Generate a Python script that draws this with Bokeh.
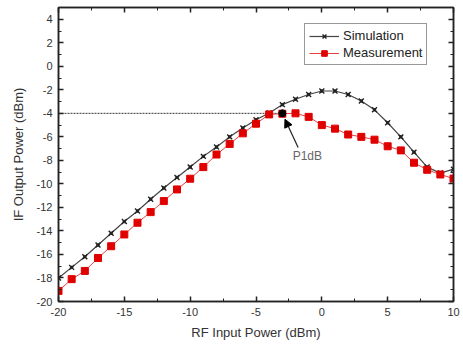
from bokeh.plotting import figure
from bokeh.models import (LinearAxis, Range1d, Legend, LegendItem, Arrow, NormalHead,
                          Label, FixedTicker)
from bokeh.embed import file_html
from bokeh.resources import INLINE

rf_in = [-20, -19, -18, -17, -16, -15, -14, -13, -12, -11, -10, -9, -8, -7, -6, -5,
         -4, -3, -2, -1, 0, 1, 2, 3, 4, 5, 6, 7, 8, 9, 10]
simulation = [-18.0, -17.1, -16.2, -15.2, -14.2, -13.2, -12.3, -11.3, -10.35, -9.45,
              -8.57, -7.66, -6.87, -6.0, -5.25, -4.54, -3.97, -3.26, -2.8, -2.4,
              -2.1, -2.1, -2.4, -2.95, -3.7, -4.8, -6.0, -7.3, -8.57, -9.08, -8.75]
measurement = [-19.1, -18.1, -17.4, -16.3, -15.3, -14.3, -13.3, -12.4, -11.46, -10.47,
               -9.56, -8.57, -7.5, -6.6, -5.7, -4.88, -4.09, -4.03, -4.0, -4.3,
               -5.0, -5.3, -5.8, -6.0, -6.24, -6.8, -7.15, -8.2, -8.8, -9.2, -9.55]
p1db_x = [-3.0]
p1db_y = [-4.0]
ref_x = [-20, -3]
ref_y = [-4, -4]
x_ticks = [-20, -15, -10, -5, 0, 5, 10]
y_ticks = [-20, -18, -16, -14, -12, -10, -8, -6, -4, -2, 0, 2, 4]
x_minor = [-17.5, -12.5, -7.5, -2.5, 2.5, 7.5]
y_minor = [-19, -17, -15, -13, -11, -9, -7, -5, -3, -1, 1, 3, 5]

FONT = "Liberation Sans"

p = figure(width=463, height=345, output_backend="svg", toolbar_location=None,
           x_range=Range1d(-20, 10), y_range=Range1d(-20, 5),
           min_border_left=58, min_border_right=10, min_border_top=7,
           min_border_bottom=44, x_axis_location=None, y_axis_location=None)
p.grid.visible = False
p.outline_line_color = "#222222"
p.outline_line_width = 1.5
p.background_fill_color = "white"
p.border_fill_color = "white"

def style_axis(ax, labels=True, xt=True):
    ticks = x_ticks if xt else y_ticks
    ax.ticker = FixedTicker(ticks=ticks, minor_ticks=x_minor if xt else y_minor)
    ax.major_tick_in = 5
    ax.major_tick_out = 0
    ax.minor_tick_in = 3
    ax.minor_tick_out = 0
    ax.axis_line_color = "#222222"
    ax.axis_line_width = 1.5
    ax.major_tick_line_color = "#222222"
    ax.major_tick_line_width = 1.5
    ax.minor_tick_line_color = "#222222"
    ax.major_label_text_font = FONT
    ax.major_label_text_font_size = "11px"
    ax.major_label_text_color = "#333333"
    ax.axis_label_text_font = FONT
    ax.axis_label_text_font_size = "13px"
    ax.axis_label_text_font_style = "normal"
    ax.axis_label_text_color = "#333333"
    if labels:
        ax.major_label_overrides = {t: str(t) for t in ticks}
    else:
        ax.major_label_text_font_size = "0px"
        ax.major_label_standoff = 0
        ax.major_label_overrides = {t: "" for t in ticks}

xb = LinearAxis(axis_label="RF Input Power (dBm)")
style_axis(xb, True, True)
xb.major_label_standoff = 6
xb.axis_label_standoff = 6
p.add_layout(xb, "below")
yl = LinearAxis(axis_label="IF Output Power (dBm)")
style_axis(yl, True, False)
yl.major_label_standoff = 6
yl.axis_label_standoff = 8
p.add_layout(yl, "left")
xt = LinearAxis()
style_axis(xt, False, True)
p.add_layout(xt, "above")
yr = LinearAxis()
style_axis(yr, False, False)
p.add_layout(yr, "right")

p.line(ref_x, ref_y, line_color="#333333", line_width=1, line_dash="2 1")

sl = p.line(rf_in, simulation, line_color="#444444", line_width=1.2)
sm = p.scatter(rf_in, simulation, marker="x", size=7, line_color="#222222", line_width=1.4)
sd = p.scatter(rf_in, simulation, marker="circle", size=2.5, fill_color="#222222",
               line_color="#222222")
ml = p.line(rf_in, measurement, line_color="#e84040", line_width=1)
mm = p.scatter(rf_in, measurement, marker="square", size=7, fill_color="#e00000",
               line_color="#e00000")

p.scatter(p1db_x, p1db_y, marker="circle", size=7, fill_color="black", line_color="black")

p.add_layout(Arrow(end=NormalHead(size=8, fill_color="black", line_color="black"),
                   x_start=-1.8, y_start=-6.9, x_end=-2.8, y_end=-4.5,
                   line_color="#222222", line_width=1.2))
p.add_layout(Label(x=-1.1, y=-7.6, text="P1dB", text_font=FONT, text_font_size="12px",
                   text_color="#666666", text_align="center", text_baseline="middle"))

legend = Legend(items=[LegendItem(label="Simulation", renderers=[sl, sm]),
                       LegendItem(label="Measurement", renderers=[ml, mm])],
                location=(246, 236), glyph_width=30, glyph_height=14,
                label_height=14, label_text_font=FONT, label_text_font_size="13px",
                label_text_color="#222222", label_standoff=4, padding=4, spacing=2,
                margin=0, border_line_color="#333333", border_line_width=1.2,
                background_fill_alpha=1)
p.add_layout(legend)

open("out.html", "w").write(file_html(p, INLINE))
